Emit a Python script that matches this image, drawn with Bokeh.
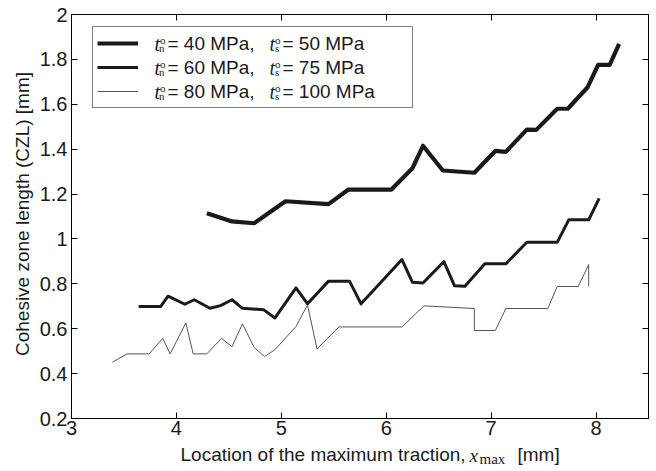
import math
from bokeh.plotting import figure
from bokeh.layouts import row, column
from bokeh.models import Range1d, LinearAxis, Legend, LegendItem, Label, FixedTicker
from bokeh.embed import file_html
from bokeh.resources import INLINE
from bokeh.core.properties import value

# ---------------- data ----------------
x_ticks = [3, 4, 5, 6, 7, 8]
y_ticks = [0.2, 0.4, 0.6, 0.8, 1.0, 1.2, 1.4, 1.6, 1.8, 2.0]
y_tick_labels = ["0.2", "0.4", "0.6", "0.8", "1", "1.2", "1.4", "1.6", "1.8", "2"]

s40_x = [4.29, 4.53, 4.74, 5.04, 5.45, 5.64, 6.05, 6.25, 6.35, 6.54, 6.84, 7.04, 7.14,
         7.34, 7.43, 7.63, 7.73, 7.92, 8.02, 8.13, 8.22]
s40_y = [1.115, 1.078, 1.070, 1.168, 1.155, 1.220, 1.220, 1.315, 1.415, 1.305, 1.295,
         1.392, 1.388, 1.487, 1.486, 1.580, 1.580, 1.676, 1.776, 1.776, 1.869]

s60_x = [3.64, 3.85, 3.92, 4.08, 4.17, 4.32, 4.42, 4.53, 4.63, 4.83, 4.94, 5.14, 5.25,
         5.45, 5.65, 5.76, 6.15, 6.25, 6.35, 6.55, 6.65, 6.75, 6.94, 7.14, 7.34, 7.63,
         7.74, 7.93, 8.03]
s60_y = [0.699, 0.699, 0.745, 0.709, 0.729, 0.691, 0.703, 0.729, 0.691, 0.685, 0.648,
         0.782, 0.711, 0.812, 0.812, 0.711, 0.908, 0.807, 0.804, 0.899, 0.792, 0.789,
         0.889, 0.889, 0.985, 0.985, 1.085, 1.085, 1.181]

s80_x = [3.39, 3.53, 3.74, 3.87, 3.94, 4.09, 4.16, 4.29, 4.43, 4.53, 4.63, 4.74, 4.84,
         4.94, 5.14, 5.25, 5.34, 5.55, 6.15, 6.36, 6.84, 6.84, 7.04, 7.14, 7.54, 7.63,
         7.83, 7.93, 7.93]
s80_y = [0.451, 0.488, 0.488, 0.557, 0.488, 0.626, 0.488, 0.488, 0.557, 0.520, 0.622,
         0.517, 0.476, 0.507, 0.610, 0.706, 0.510, 0.608, 0.608, 0.702, 0.690, 0.592,
         0.592, 0.690, 0.690, 0.788, 0.788, 0.886, 0.788]

tn_values = ["40", "60", "80"]
ts_values = ["50", "75", "100"]
y_label = "Cohesive zone length (CZL) [mm]"
x_label_main = "Location of the maximum traction,"

# ---------------- layout constants (canvas px) ----------------
W, H = 656, 471
LW = 34            # width of the left strip holding the y label
BH = 28            # height of the bottom strip holding the x label
FL, FB = 71, 418   # frame left / bottom in canvas px
INK = "#1a1a1a"
FONT = "Liberation Sans"
SERIF = "Liberation Serif"

p = figure(width=W - LW, height=H - BH, output_backend="svg", toolbar_location=None,
           x_range=Range1d(3, 8.5), y_range=Range1d(0.2, 2.0),
           min_border_left=FL - LW, min_border_right=8, min_border_top=14,
           min_border_bottom=(H - BH) - FB)
p.background_fill_color = "white"
p.border_fill_color = "white"
p.outline_line_color = "black"
p.grid.visible = False


def style_axis(ax, labels=True):
    ax.axis_line_color = "black"
    ax.major_tick_line_color = "black"
    ax.major_tick_in = 6
    ax.major_tick_out = 0
    ax.minor_tick_line_color = None
    ax.major_label_text_font = FONT
    ax.major_label_text_font_size = "20px"
    ax.major_label_text_color = INK
    if not labels:
        ax.major_label_text_color = None
        ax.major_label_text_font_size = "1px"
        ax.major_label_standoff = 0


xax = p.xaxis[0]
yax = p.yaxis[0]
xax.ticker = FixedTicker(ticks=x_ticks)
yax.ticker = FixedTicker(ticks=y_ticks)
yax.major_label_overrides = {t: l for t, l in zip(y_ticks, y_tick_labels)}
style_axis(xax)
style_axis(yax)
xax.major_label_standoff = 2
yax.major_label_standoff = 4

top = LinearAxis(ticker=FixedTicker(ticks=x_ticks))
right = LinearAxis(ticker=FixedTicker(ticks=y_ticks))
style_axis(top, labels=False)
style_axis(right, labels=False)
p.add_layout(top, "above")
p.add_layout(right, "right")

r40 = p.line(s40_x, s40_y, line_width=4.2, line_color=INK, line_join="round")
r60 = p.line(s60_x, s60_y, line_width=3.0, line_color=INK, line_join="round")
r80 = p.line(s80_x, s80_y, line_width=1.0, line_color="#555555")

legend = Legend(items=[LegendItem(label=value(" "), renderers=[r]) for r in (r40, r60, r80)],
                location=(92 - FL, FB - 108), orientation="vertical",
                padding=4, spacing=0, margin=0,
                glyph_width=41, glyph_height=24, label_height=24, label_width=260,
                label_standoff=10, label_text_font_size="8px",
                border_line_color="black", border_line_width=1,
                background_fill_alpha=0.0)
p.add_layout(legend)


def mid(baseline, font, size):
    # vertical middle of the text box for a wanted baseline (canvas px, y down)
    k = 0.35 if font == FONT else 0.34
    return baseline - k * size


def lab(fig, text, x, y, font=FONT, style="normal", size=19, **kw):
    fig.add_layout(Label(x=x, y=y, x_units="screen", y_units="screen",
                         text=text, text_font=font, text_font_style=style,
                         text_font_size=f"{size}px", text_color=INK,
                         text_baseline="middle", level="overlay", **kw))


def leg(text, cx, cb, font=FONT, style="normal", size=19):
    lab(p, text, cx - FL, FB - mid(cb, font, size), font, style, size)


for i, (tn, ts) in enumerate(zip(tn_values, ts_values)):
    b = 50 + 24 * i
    leg("t", 154, b, SERIF, "italic", 20)
    leg("o", 159.5, b - 6.5, SERIF, "normal", 11)
    leg("n", 158.5, b + 1.5, SERIF, "normal", 11)
    leg(f"= {tn} MPa,", 167, b)
    leg("t", 269, b, SERIF, "italic", 20)
    leg("o", 274.5, b - 6.5, SERIF, "normal", 11)
    leg("s", 274.5, b + 1.5, SERIF, "normal", 11)
    leg(f"= {ts} MPa", 282, b)


def strip(w, h):
    f = figure(width=w, height=h, output_backend="svg", toolbar_location=None,
               x_axis_location=None, y_axis_location=None,
               x_range=Range1d(0, 1), y_range=Range1d(0, 1), min_border=0)
    f.outline_line_color = None
    f.grid.visible = False
    f.background_fill_color = "white"
    f.border_fill_color = "white"
    return f


# left strip: rotated y-axis label
pl = strip(LW, H)
lab(pl, y_label, 22, H - 213.5, FONT, "normal", 19, angle=math.pi / 2,
    text_align="center")

# bottom strip: x-axis label with math-styled x_max (frame aligned with the plot frame)
pb = strip(W - LW, BH)


def xl(text, cx, cb, font=FONT, style="normal", size=19):
    lab(pb, text, cx - FL, H - mid(cb, font, size), font, style, size)


xl(x_label_main, 180, 461)
xl("x", 469, 461, SERIF, "italic", 19)
xl("max", 479, 464, SERIF, "normal", 15)
xl("[mm]", 517, 461)

layout = row(pl, column(p, pb, spacing=0), spacing=0)
open("out.html", "w").write(file_html(layout, INLINE))
